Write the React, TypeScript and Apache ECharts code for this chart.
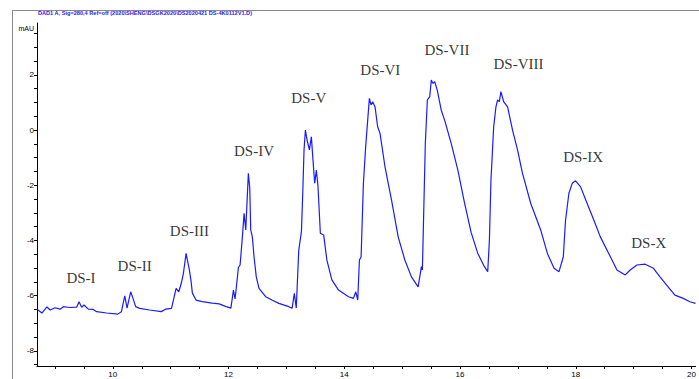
import React, { useEffect, useRef } from "react";
import * as echarts from "echarts";

// Retention time (min) and absorbance (mAU)
const times = [
  8.69, 8.775, 8.861, 8.918, 9.003, 9.089, 9.146, 9.25, 9.376, 9.416, 9.462, 9.502, 9.576, 9.662, 9.72, 9.892,
  10.086, 10.149, 10.206, 10.246, 10.309, 10.349, 10.395, 10.464, 10.636, 10.837, 10.911, 11.014, 11.094, 11.139,
  11.18, 11.22, 11.266, 11.294, 11.323, 11.349, 11.375, 11.438, 11.546, 11.718, 11.838, 11.959, 12.04, 12.084,
  12.113, 12.17, 12.199, 12.239, 12.268, 12.297, 12.342, 12.366, 12.383, 12.411, 12.44, 12.479, 12.526, 12.641,
  12.749, 12.869, 13.041, 13.098, 13.136, 13.17, 13.213, 13.259, 13.282, 13.304, 13.328, 13.356, 13.397, 13.431,
  13.459, 13.488, 13.517, 13.545, 13.586, 13.643, 13.699, 13.785, 13.9, 14.072, 14.158, 14.198, 14.232, 14.261,
  14.29, 14.33, 14.369, 14.404, 14.433, 14.462, 14.49, 14.531, 14.576, 14.617, 14.703, 14.816, 14.931, 15.046,
  15.16, 15.275, 15.304, 15.332, 15.349, 15.373, 15.4, 15.435, 15.476, 15.503, 15.533, 15.562, 15.606, 15.675,
  15.733, 15.847, 15.962, 16.077, 16.19, 16.306, 16.421, 16.478, 16.507, 16.534, 16.581, 16.62, 16.649, 16.679,
  16.706, 16.753, 16.821, 16.907, 16.993, 17.079, 17.222, 17.393, 17.509, 17.624, 17.71, 17.784, 17.823, 17.881,
  17.938, 17.995, 18.081, 18.196, 18.311, 18.424, 18.569, 18.711, 18.854, 18.94, 19.055, 19.198, 19.342, 19.455,
  19.57, 19.713, 19.857, 19.971, 20.069,
];
const absorbance = [
  -6.49, -6.63, -6.41, -6.52, -6.44, -6.49, -6.4, -6.43, -6.42, -6.22, -6.42, -6.34, -6.49, -6.5, -6.58, -6.63,
  -6.67, -6.58, -6.01, -6.45, -5.86, -6.1, -6.4, -6.46, -6.52, -6.58, -6.49, -6.46, -5.74, -5.86,
  -5.58, -5.19, -4.47, -4.77, -5.07, -5.43, -5.91, -6.16, -6.22, -6.27, -6.3, -6.4, -6.45, -5.8,
  -6.12, -4.98, -4.89, -3.87, -3.02, -3.62, -1.57, -2.1, -3.62, -3.87, -4.59, -5.32, -5.74, -6.04,
  -6.16, -6.28, -6.4, -6.46, -5.92, -6.45, -4.35, -3.68, -2.28, -0.72, 0.0, -0.36, -0.72, -0.24,
  -1.09, -1.93, -1.45, -2.03, -3.74, -3.8, -4.71, -5.43, -5.8, -6.04, -6.1, -5.86, -6.16, -4.71,
  -4.6, -1.93, -0.61, 0.36, 1.15, 0.91, 1.03, 0.84, 0.12, -0.12, -1.33, -2.54, -3.87, -4.71,
  -5.32, -5.68, -5.32, -4.95, -5.07, -2.9, -0.48, 1.09, 1.21, 1.81, 1.69, 1.75, 1.45, 0.72,
  0.36, -0.48, -1.45, -2.64, -3.7, -4.47, -4.95, -5.13, -3.99, -1.81, 0.12, 0.84, 1.09, 1.03,
  1.39, 1.03, 0.84, 0.0, -0.72, -1.57, -2.66, -3.62, -4.47, -5.01, -5.13, -4.59, -3.26, -2.29,
  -1.93, -1.84, -2.05, -2.66, -3.26, -3.87, -4.47, -5.07, -5.25, -5.07, -4.89, -4.86, -5.01, -5.32,
  -5.62, -5.98, -6.1, -6.22, -6.28,
];

// Peak annotations: name and where its label sits (min, mAU)
const peakNames = ["DS-I", "DS-II", "DS-III", "DS-IV", "DS-V", "DS-VI", "DS-VII", "DS-VIII", "DS-IX", "DS-X"];
const peakLabelTimes = [9.45, 10.378, 11.323, 12.44, 13.385, 14.622, 15.773, 17.01, 18.127, 19.26];
const peakLabelValues = [-5.36, -4.93, -3.66, -0.76, 1.16, 2.17, 2.9, 2.39, -0.98, -4.09];

// Axis ticks and labels
const xLabelValues = [10, 12, 14, 16, 18, 20];
const xTickValues = [9, 9.5, 10, 10.5, 11, 11.5, 12, 12.5, 13, 13.5, 14, 14.5, 15, 15.5, 16, 16.5, 17, 17.5, 18, 18.5, 19, 19.5, 20];
const yLabelValues = [-8, -6, -4, -2, 0, 2];
const yTickValues = [-8.5, -8, -7.5, -7, -6.5, -6, -5.5, -5, -4.5, -4, -3.5, -3, -2.5, -2, -1.5, -1, -0.5, 0, 0.5, 1, 1.5, 2, 2.5, 3, 3.5];

const titleText = "DAD1 A, Sig=280,4 Ref=off (2020\\SHENG\\DSGK2020\\DS2020421 DS-4K0112V1.D)";

export default function App() {
  const ref = useRef<HTMLDivElement>(null);
  useEffect(() => {
    if (!ref.current) return;
    const chart = echarts.init(ref.current, null, { renderer: "svg" });
    const lineData = times.map((t, i) => [t, absorbance[i]]);
    const labelData = peakNames.map((n, i) => ({ name: n, value: [peakLabelTimes[i], peakLabelValues[i]] }));
    chart.setOption({
      animation: false,
      backgroundColor: "#ffffff",
      grid: { left: 37, right: 0, top: 23, bottom: 13, containLabel: false },
      xAxis: {
        type: "value",
        min: 8.69,
        max: 20.07,
        splitLine: { show: false },
        axisLine: { show: true, onZero: false, lineStyle: { color: "#000", width: 1 } },
        axisTick: { show: true, length: 3, customValues: xTickValues, lineStyle: { color: "#000" } },
        axisLabel: {
          customValues: xLabelValues,
          color: "#000",
          fontSize: 8,
          fontFamily: "Liberation Sans, Arial, sans-serif",
          margin: 4,
        },
      },
      yAxis: {
        type: "value",
        min: -8.55,
        max: 3.88,
        splitLine: { show: false },
        axisLine: { show: true, onZero: false, lineStyle: { color: "#000", width: 1 } },
        axisTick: { show: true, length: 3, customValues: yTickValues, lineStyle: { color: "#000" } },
        axisLabel: {
          customValues: yLabelValues,
          color: "#000",
          fontSize: 8,
          fontFamily: "Liberation Sans, Arial, sans-serif",
          margin: 3,
        },
      },
      graphic: [
        { type: "line", shape: { x1: 12, y1: 10.5, x2: 699, y2: 10.5 }, style: { stroke: "#8a8a8a", lineWidth: 1 } },
        { type: "line", shape: { x1: 12.5, y1: 10, x2: 12.5, y2: 379 }, style: { stroke: "#8a8a8a", lineWidth: 1 } },
        {
          type: "text",
          x: 38,
          y: 13,
          style: {
            text: titleText,
            fill: "#1a1aff",
            font: "bold 5.6px 'Liberation Sans Narrow', 'Liberation Sans', Arial, sans-serif",
            textVerticalAlign: "middle",
          },
        },
        {
          type: "text",
          x: 34,
          y: 28,
          style: {
            text: "mAU",
            fill: "#000",
            font: "7px 'Liberation Sans', Arial, sans-serif",
            textAlign: "right",
            textVerticalAlign: "middle",
          },
        },
      ],
      series: [
        {
          type: "line",
          data: lineData,
          symbol: "none",
          smooth: false,
          clip: true,
          lineStyle: { color: "#1a1aff", width: 1.2 },
          silent: true,
        },
        {
          type: "scatter",
          data: labelData,
          symbolSize: 1,
          itemStyle: { color: "rgba(0,0,0,0)" },
          silent: true,
          label: {
            show: true,
            position: "inside",
            formatter: "{b}",
            color: "#000",
            fontSize: 15,
            fontFamily: "'Liberation Serif', 'Times New Roman', serif",
          },
        },
      ],
    });
    return () => chart.dispose();
  }, []);
  return <div ref={ref} style={{ position: "fixed", left: 0, top: 0, width: 699, height: 379 }} />;
}
